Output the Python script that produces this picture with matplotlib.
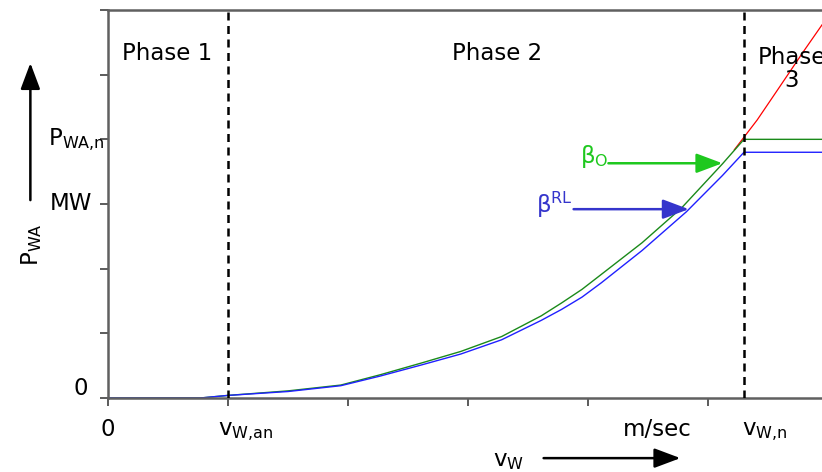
import numpy as np
import matplotlib
matplotlib.use('Agg')
import matplotlib.pyplot as plt

# wind speed (normalised tick units) and power curves
v_opt = [0.0, 0.77, 1.0, 1.5, 1.94, 2.27, 2.61, 2.94, 3.28, 3.61, 3.78, 3.95,
         4.11, 4.45, 4.78, 5.12, 5.30, 5.95]
p_opt = [0.0, 0.0, 0.04, 0.11, 0.20, 0.36, 0.54, 0.72, 0.95, 1.27, 1.47, 1.68,
         1.91, 2.40, 2.94, 3.62, 4.0, 4.0]

v_rl = [0.0, 0.77, 1.0, 1.5, 1.94, 2.27, 2.61, 2.94, 3.28, 3.61, 3.78, 3.95,
        4.11, 4.45, 4.82, 5.12, 5.30, 5.95]
p_rl = [0.0, 0.0, 0.04, 0.10, 0.19, 0.34, 0.51, 0.68, 0.90, 1.20, 1.37, 1.56,
        1.78, 2.28, 2.88, 3.44, 3.80, 3.80]

v_ext = [5.22, 5.41, 5.6, 5.8, 5.95]
p_ext = [3.84, 4.30, 4.82, 5.37, 5.77]

v_an = 1.0
v_n = 5.30
p_n = 4.0
p_mw = 3.0

FS = 16.5
GREEN = '#1ec81e'
BLUE = '#3535cc'

def arrow(ax, start, tip, color):
    ax.annotate('', xy=tip, xytext=start, annotation_clip=False,
                arrowprops=dict(arrowstyle='-|>,head_length=0.8,head_width=0.3',
                                color=color, lw=1.8, mutation_scale=20,
                                shrinkA=0, shrinkB=0))

def main():
    fig = plt.figure(figsize=(8.22, 4.72), dpi=100)
    ax = fig.add_axes([0.1314, 0.1568, 0.8686, 0.822])
    ax.set_xlim(0, 5.95)
    ax.set_ylim(0, 6)

    for s in ['left', 'bottom', 'top']:
        ax.spines[s].set_color('#606060')
        ax.spines[s].set_linewidth(1.8)
    ax.spines['right'].set_visible(False)
    ax.set_xticks([0, 1, 2, 3, 4, 5])
    ax.set_yticks([0, 1, 2, 3, 4, 5, 6])
    ax.tick_params(direction='out', length=6, width=1.2, color='#404040',
                   labelleft=False, labelbottom=False)

    # phase boundaries
    for x in [v_an, v_n]:
        ax.axvline(x, color='black', lw=1.8, ls=(0, (3.2, 2.2)), zorder=3)

    ax.plot(v_ext, p_ext, color='red', lw=0.9)
    ax.plot(v_opt, p_opt, color='#1a8a1a', lw=1.0)
    ax.plot(v_rl, p_rl, color='#2020ff', lw=1.0)

    ax.text(0.49, 5.33, 'Phase 1', fontsize=FS, ha='center', va='center')
    ax.text(3.24, 5.33, 'Phase 2', fontsize=FS, ha='center', va='center')
    ax.text(5.70, 5.09, 'Phase\n3', fontsize=FS, ha='center', va='center',
            linespacing=1.0, clip_on=False)

    # y axis labels
    ax.text(-0.03, p_n, r'$\mathregular{P_{WA{,}n}}$', fontsize=FS, ha='right', va='center')
    ax.text(-0.13, p_mw, 'MW', fontsize=FS, ha='right', va='center')
    ax.text(-0.17, 0.14, '0', fontsize=FS, ha='right', va='center')
    ax.text(-0.64, 2.37, r'$\mathregular{P_{WA}}$', fontsize=FS, rotation=90,
            ha='center', va='center')
    arrow(ax, (-0.647, 3.06), (-0.647, 5.18), 'black')

    # x axis labels
    ax.text(0.0, -0.49, '0', fontsize=FS, ha='center', va='center')
    ax.text(0.92, -0.52, r'$\mathregular{v_{W{,}an}}$', fontsize=FS, ha='left', va='center')
    ax.text(4.58, -0.49, 'm/sec', fontsize=FS, ha='center', va='center')
    ax.text(5.28, -0.52, r'$\mathregular{v_{W{,}n}}$', fontsize=FS, ha='left', va='center')
    ax.text(3.34, -0.96, r'$\mathregular{v_W}$', fontsize=FS, ha='center', va='center')
    arrow(ax, (3.63, -0.93), (4.77, -0.93), 'black')

    # pitch angle annotations
    ax.text(4.05, 3.73, r'$\mathregular{\beta_O}$', fontsize=FS, color=GREEN,
            ha='center', va='center')
    arrow(ax, (4.17, 3.63), (5.12, 3.63), GREEN)
    ax.text(3.72, 2.98, r'$\mathregular{\beta^{RL}}$', fontsize=FS, color=BLUE,
            ha='center', va='center')
    arrow(ax, (3.88, 2.92), (4.84, 2.92), BLUE)

    fig.savefig('out.png', dpi=100)

main()
